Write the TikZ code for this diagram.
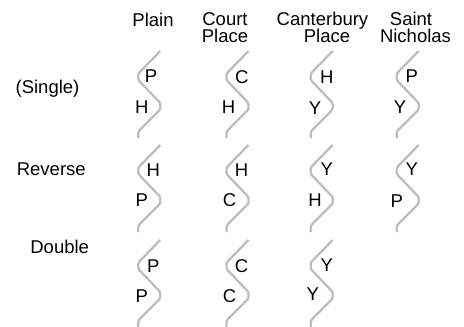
\documentclass[tikz,border=0pt]{standalone}
\usepackage{fontspec}
\setmainfont{Liberation Sans}
\begin{document}
\begin{tikzpicture}[x=1pt,y=-1pt,
  zig/.style={draw=black!26,line width=2.3pt,rounded corners=1.5pt,line join=round},
  lab/.style={font=\fontsize{18.5}{17}\selectfont,inner sep=0pt},
  hdr/.style={lab,anchor=base},
  let/.style={lab,anchor=center}]
\useasboundingbox (0,0) rectangle (464,327);
% headers
\node[hdr] (hPlain) at (153,26) {Plain};
\node[hdr] (hCourtA) at (225,25.5) {Court};
\node[hdr] (hCourtB) at (225,42.5) {Place};
\node[hdr] (hCantA) at (322.5,25.5) {Canterbury};
\node[hdr] (hCantB) at (327,42.5) {Place};
\node[hdr] (hSaintA) at (411,25.5) {Saint};
\node[hdr] (hSaintB) at (415.5,42.5) {Nicholas};
% row labels
\node[hdr] (rSingle) at (47.5,93) {(Single)};
\node[hdr] (rReverse) at (51.3,175) {Reverse};
\node[hdr] (rDouble) at (59.7,253.3) {Double};
% zigzags (left x, top y)
\foreach \L/\y in {138.3/51,226.5/51,310.7/51,396.7/51,
                   138.3/145,226.5/145,310.7/145,396.7/145,
                   138.3/240,226.5/240,310.7/240}{
  \draw[zig] (\L+22,\y) -- (\L,\y+22.5) -- (\L,\y+29) -- (\L+22,\y+52) -- (\L+22,\y+58.5) -- (\L,\y+80.5) -- (\L,\y+87);
}
% letters row 1
\node[let] (a1u) at (151,76.5) {P};
\node[let] (a1l) at (141.7,107) {H};
\node[let] (b1u) at (241.7,77.5) {C};
\node[let] (b1l) at (228.5,107) {H};
\node[let] (c1u) at (326.7,77) {H};
\node[let] (c1l) at (315,108) {Y};
\node[let] (d1u) at (411.7,76.5) {P};
\node[let] (d1l) at (400,107) {Y};
% row 2
\node[let] (a2u) at (153.3,170) {H};
\node[let] (a2l) at (141.7,200) {P};
\node[let] (b2u) at (241.5,170) {H};
\node[let] (b2l) at (229.5,200) {C};
\node[let] (c2u) at (326.7,169) {Y};
\node[let] (c2l) at (315,200) {H};
\node[let] (d2u) at (411.7,169) {Y};
\node[let] (d2l) at (396.7,201) {P};
% row 3
\node[let] (a3u) at (153.3,266) {P};
\node[let] (a3l) at (141.7,296) {P};
\node[let] (b3u) at (241.5,266) {C};
\node[let] (b3l) at (229.5,296) {C};
\node[let] (c3u) at (326.7,265.5) {Y};
\node[let] (c3l) at (312.7,294.5) {Y};
\end{tikzpicture}
\end{document}
